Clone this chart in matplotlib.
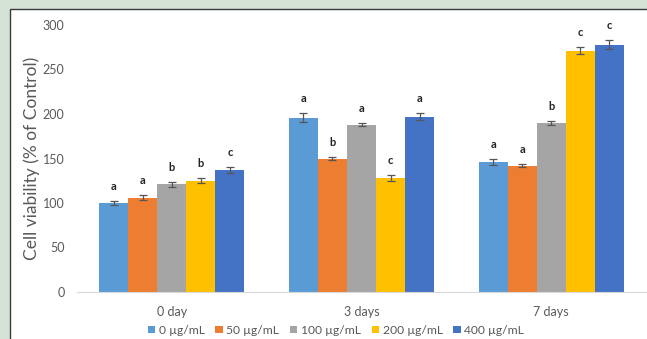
import matplotlib as mpl
mpl.use('Agg')

import matplotlib.pyplot as plt
from matplotlib.patches import Rectangle
import numpy as np

plt.rcParams['font.family'] = ['Lato', 'DejaVu Sans']

# Data
groups = ['0 day', '3 days', '7 days']
doses = ['0 µg/mL', '50 µg/mL', '100 µg/mL', '200 µg/mL', '400 µg/mL']
values = [
    [100, 196, 146],   # 0 µg/mL
    [106, 150, 142],   # 50 µg/mL
    [121, 188, 190],   # 100 µg/mL
    [125, 128, 271],   # 200 µg/mL
    [137, 197, 278],   # 400 µg/mL
]
errors = [
    [2.5, 5, 3],
    [3, 2, 1.5],
    [2.5, 1.5, 2],
    [3, 3.5, 4],
    [3, 4, 5],
]
letters = [
    ['a', 'a', 'a'],
    ['a', 'b', 'a'],
    ['b', 'a', 'b'],
    ['b', 'c', 'c'],
    ['c', 'a', 'c'],
]

colors = ['#5B9BD5', '#ED7D31', '#A5A5A5', '#FFC000', '#4472C4']
bg_color = '#d5e3d7'
text_color = '#595959'

fig = plt.figure(figsize=(6.47, 3.39), dpi=100, facecolor=bg_color)
# white panel with dark border
panel = Rectangle((10 / 647, -0.05), 1.1, 1 - 9 / 339 + 0.05, transform=fig.transFigure,
                  facecolor='white', edgecolor='#3a3a3a', linewidth=1.0, zorder=-5)
fig.patches.append(panel)

ax = fig.add_axes([77 / 647, 1 - 292 / 339, (646 - 77) / 647, (292 - 25) / 339])
ax.set_facecolor('none')

x = np.arange(len(groups))
width = 0.153
for i, dose in enumerate(doses):
    offs = x + (i - 2) * width
    ax.bar(offs, values[i], width, color=colors[i], label=dose, zorder=2)
    ax.errorbar(offs, values[i], yerr=errors[i], fmt='none', ecolor='#555555',
                elinewidth=0.9, capsize=3, capthick=0.9, zorder=3)
    for xx, v, e, l in zip(offs, values[i], errors[i], letters[i]):
        ax.text(xx, v + e + 10, l, ha='center', va='bottom', fontsize=8,
                fontweight='bold', color='#222222')

ax.set_xlim(-0.5, 2.5)
ax.set_ylim(0, 300)
ax.set_yticks(range(0, 301, 50))
ax.set_xticks(x)
ax.set_xticklabels(groups)
ax.tick_params(axis='both', length=0, labelsize=9, colors=text_color)
ax.tick_params(axis='x', pad=10)
ax.tick_params(axis='y', pad=9)
for s in ['top', 'right', 'left']:
    ax.spines[s].set_visible(False)
ax.spines['bottom'].set_color('#d9d9d9')
ax.set_ylabel('Cell viability (% of Control)', fontsize=12.5, color=text_color, labelpad=2)

leg = ax.legend(loc='upper center', bbox_to_anchor=(0.455, -0.1), ncol=5, frameon=False,
                fontsize=8.7, handlelength=0.6, handleheight=0.6, handletextpad=0.3,
                columnspacing=0.9, borderpad=0)
for t in leg.get_texts():
    t.set_color(text_color)

fig.savefig('out.png', dpi=100, facecolor=fig.get_facecolor())
